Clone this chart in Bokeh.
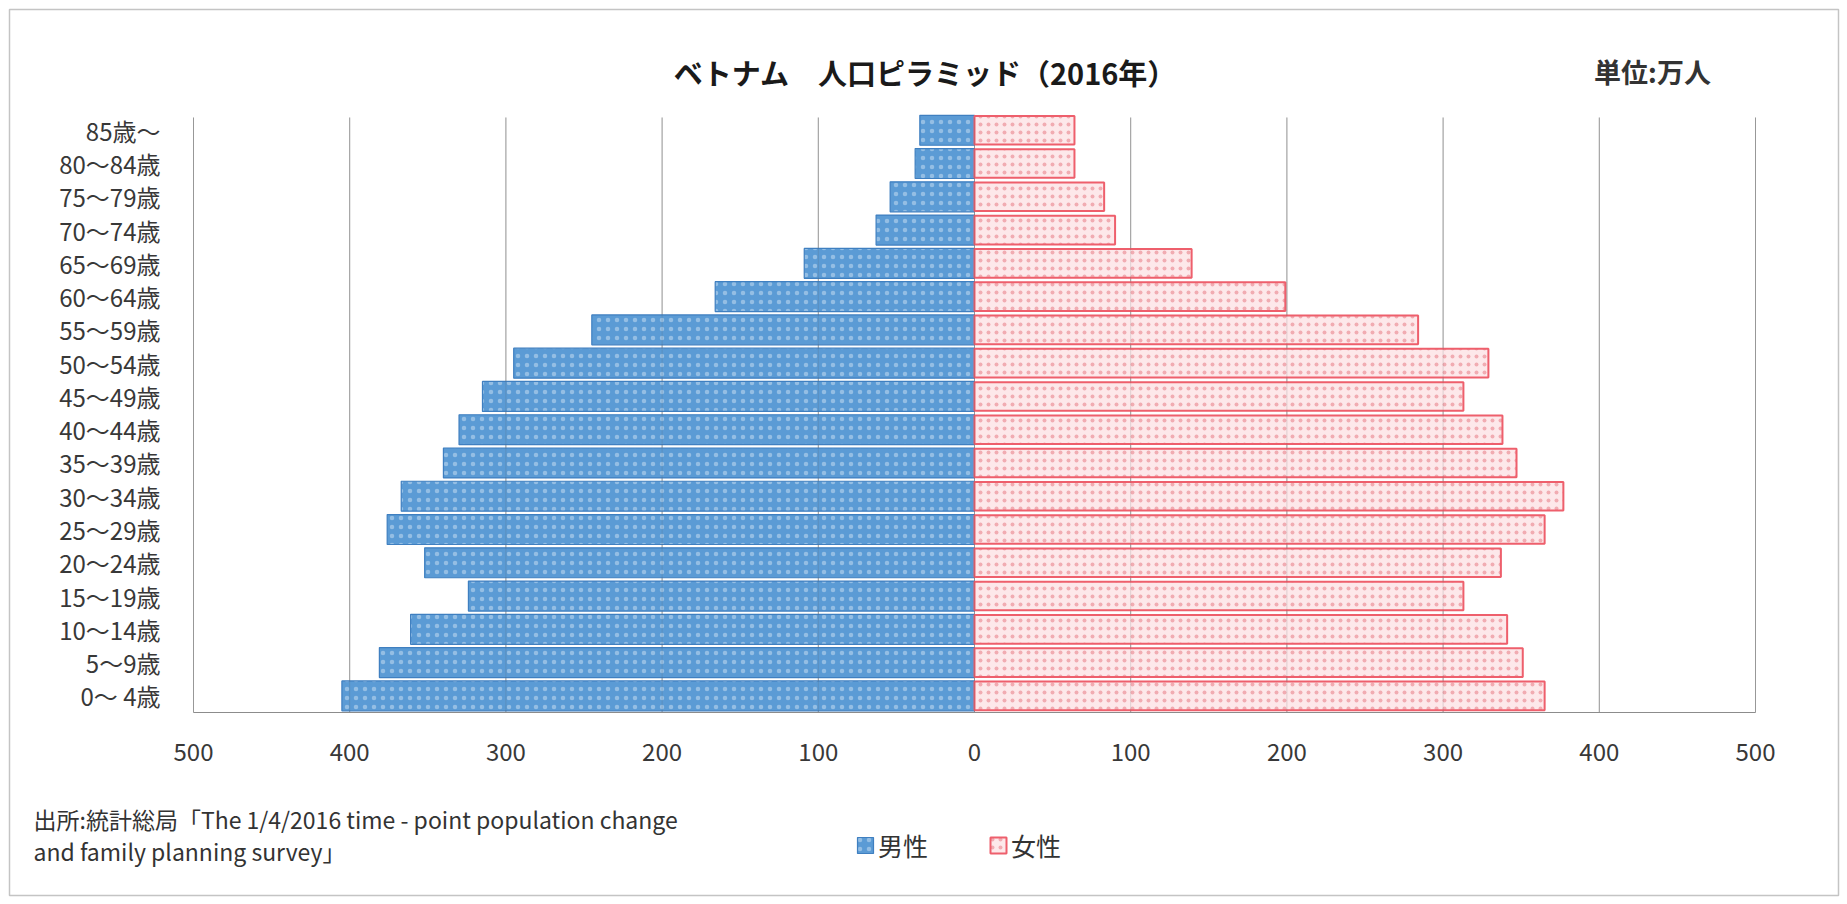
from bokeh.plotting import figure
from bokeh.models import (ColumnDataSource, Range1d, FixedTicker, CustomJSTickFormatter,
                          Label, Legend, LegendItem)
from bokeh.embed import file_html
from bokeh.resources import INLINE

# ---- data (万人) bottom -> top ----
ages = ["0～ 4歳", "5～9歳", "10～14歳", "15～19歳", "20～24歳", "25～29歳",
        "30～34歳", "35～39歳", "40～44歳", "45～49歳", "50～54歳", "55～59歳",
        "60～64歳", "65～69歳", "70～74歳", "75～79歳", "80～84歳", "85歳～"]
male = [405, 381, 361, 324, 352, 376, 367, 340, 330, 315, 295, 245, 166, 109, 63, 54, 38, 35]
female = [365, 351, 341, 313, 337, 365, 377, 347, 338, 313, 329, 284, 199, 139, 90, 83, 64, 64]
x_ticks = [-500, -400, -300, -200, -100, 0, 100, 200, 300, 400, 500]

title_text = "ベトナム　人口ピラミッド（2016年）"
unit_text = "単位:万人"
source_lines = ["出所:統計総局「The 1/4/2016 time - point population change",
                "and family planning survey」"]
legend_labels = ["男性", "女性"]

FONT = "Noto Sans CJK JP"

# ---- layout geometry (canvas pixels) ----
W, H = 1846, 903
PX_ZERO, PX_PER_UNIT = 974.0, 1.562      # x: value 0 at px 974
PY_BASE, PX_PER_ROW = 712.0, 33.27       # y: row -0.5 at py 712


def dx(px):
    return (px - PX_ZERO) / PX_PER_UNIT


def dy(py):
    return -0.5 + (PY_BASE - py) / PX_PER_ROW


n = len(ages)
ypos = list(range(n))
src = ColumnDataSource(dict(y=ypos, male_neg=[-v for v in male], female=female,
                            zero=[0] * n))

p = figure(width=W, height=H, output_backend="svg", toolbar_location=None,
           x_range=Range1d(dx(0), dx(W)), y_range=Range1d(dy(H), dy(0)),
           min_border=0)
p.outline_line_color = None
p.background_fill_color = "white"
p.border_fill_color = "white"

# outer border of the chart area
p.quad(left=dx(9), right=dx(1838), bottom=dy(895), top=dy(9),
       fill_color=None, line_color="#c4c4c4", line_width=1.5)

# vertical grid lines (limited to the plotting band)
grid_src = ColumnDataSource(dict(x=x_ticks, y0=[-0.5] * len(x_ticks),
                                 y1=[dy(117)] * len(x_ticks)))
p.segment(x0="x", y0="y0", x1="x", y1="y1", source=grid_src,
          line_color="#a6a6a6", line_width=1)

male_r = p.hbar(y="y", left="male_neg", right="zero", height=0.9, source=src,
                fill_color="#5B9BD5", line_color="#3F7FC0", line_width=1.2,
                hatch_pattern="dot", hatch_color="white", hatch_alpha=0.35, hatch_scale=9)
female_r = p.hbar(y="y", left="zero", right="female", height=0.86, source=src,
                  fill_color="#FDE8EA", line_color="#EE5F6C", line_width=2,
                  hatch_pattern="dot", hatch_color="#E87A84", hatch_alpha=0.55, hatch_scale=8)

# faint grid showing through the bars
p.segment(x0="x", y0="y0", x1="x", y1="y1", source=grid_src,
          line_color="#5a5a5a", line_width=1, line_alpha=0.18)

# axes (drawn at fixed data locations inside the canvas)
xa = p.xaxis[0]
xa.fixed_location = -0.5
xa.bounds = (-500, 500)
xa.ticker = FixedTicker(ticks=x_ticks)
xa.formatter = CustomJSTickFormatter(code="return Math.abs(tick).toString()")
xa.major_tick_line_color = None
xa.minor_tick_line_color = None
xa.axis_line_color = "#8c8c8c"
xa.major_label_standoff = 24
xa.major_label_text_font = FONT
xa.major_label_text_font_size = "24px"
xa.major_label_text_color = "#383838"

ya = p.yaxis[0]
ya.fixed_location = -500
ya.bounds = (-0.5, n - 0.5)
ya.ticker = FixedTicker(ticks=ypos)
ya.major_label_overrides = {i: a for i, a in zip(ypos, ages)}
ya.major_tick_line_color = None
ya.minor_tick_line_color = None
ya.axis_line_color = None
ya.major_label_standoff = 27
ya.major_label_text_font = FONT
ya.major_label_text_font_size = "24px"
ya.major_label_text_color = "#383838"

p.xgrid.grid_line_color = None
p.ygrid.grid_line_color = None

# texts
p.add_layout(Label(x=dx(925), y=dy(71), text=title_text, text_align="center",
                   text_baseline="middle", text_font=FONT, text_font_size="29px",
                   text_font_style="bold", text_color="#1a1a1a"))
p.add_layout(Label(x=dx(1652), y=dy(71), text=unit_text, text_align="center",
                   text_baseline="middle", text_font=FONT, text_font_size="27px",
                   text_font_style="bold", text_color="#333333"))
for line, py in zip(source_lines, [818, 850]):
    p.add_layout(Label(x=dx(33), y=dy(py), text=line, text_align="left",
                       text_baseline="middle", text_font=FONT, text_font_size="23px",
                       text_color="#333333"))

legend = Legend(items=[LegendItem(label=legend_labels[0], renderers=[male_r]),
                       LegendItem(label=legend_labels[1], renderers=[female_r])],
                orientation="horizontal", location=(855, H - 863),
                glyph_width=20, glyph_height=20, label_height=20,
                label_standoff=3, spacing=60,
                padding=0, margin=0, border_line_color=None,
                background_fill_alpha=0,
                label_text_font=FONT, label_text_font_size="25px",
                label_text_color="#333333")
p.add_layout(legend, "center")

open("out.html", "w").write(file_html(p, INLINE))
